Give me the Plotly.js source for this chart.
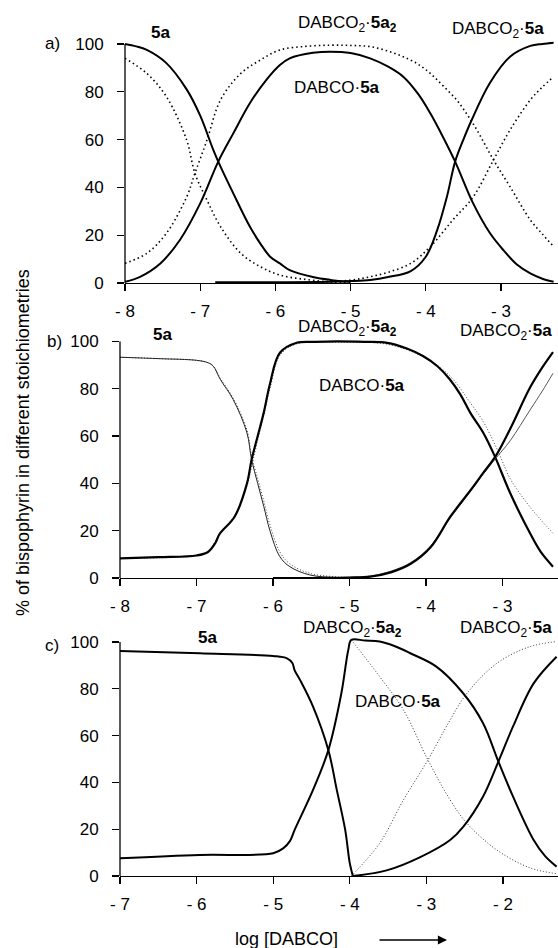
<!DOCTYPE html>
<html>
<head>
<meta charset="utf-8">
<script src="https://cdn.plot.ly/plotly-3.0.1.min.js"></script>
<style>
  html, body { margin: 0; padding: 0; background: #fff; }
  #chart { width: 558px; height: 948px; }
</style>
</head>
<body>
<div id="chart"></div>
<script>
// ---------- panel a: log [DABCO] from -8 ----------
const aX5a      = [-8, -7.85, -7.71, -7.45, -7.18, -7.0, -6.83, -6.76, -6.56, -6.34, -6.2, -6.07, -5.94, -5.81, -5.5, -5.27, -5.0];
const a5a       = [100, 99, 97.5, 92, 81, 70, 56, 50.8, 37.5, 23.6, 16.5, 11, 8.2, 5.4, 2.5, 1.3, 0.5];
const aX5aAlt   = [-8, -7.71, -7.45, -7.18, -7.07, -6.91, -6.73, -6.46, -6.2, -5.94, -5.6, -5.27, -5.0];
const a5aAlt    = [94, 87.7, 78, 59.8, 45.9, 34.7, 23.6, 12.4, 6.8, 3.3, 1.5, 0.5, 0.2];
const aX11      = [-8, -7.8, -7.53, -7.27, -7.0, -6.76, -6.56, -6.34, -6.12, -5.94, -5.81, -5.5, -5.27, -5.0, -4.74, -4.5, -4.3, -4.1, -3.94, -3.77, -3.61, -3.37, -3.15, -2.97, -2.78, -2.61, -2.45, -2.3];
const a11       = [0.5, 2.6, 8.2, 18, 33.3, 50.8, 62.6, 75.2, 85, 91.2, 94, 96.3, 96.8, 96.2, 94, 90.5, 86.3, 79, 71, 61, 50.8, 33.3, 21, 13.8, 7.5, 4, 1.8, 0.5];
const aX22      = [-8, -7.71, -7.45, -7.18, -7.07, -6.91, -6.73, -6.46, -6.2, -5.94, -5.6, -5.27, -5.0, -4.74, -4.5, -4.3, -4.1, -3.94, -3.77, -3.59, -3.45, -3.32, -3.1, -2.88, -2.61, -2.45, -2.3];
const a22       = [8.2, 12.4, 20.8, 36, 45.9, 59.8, 76.6, 87.7, 93.3, 97.5, 99, 99.5, 99.4, 98.9, 97, 94.7, 91.5, 87.7, 82.5, 76.6, 70.5, 64, 51.5, 40.3, 26.4, 20.5, 15.2];
const aX21      = [-6.8, -6.0, -5.27, -5.0, -4.74, -4.5, -4.2, -4.0, -3.85, -3.72, -3.61, -3.5, -3.39, -3.15, -2.88, -2.61, -2.45, -2.3];
const a21       = [0.3, 0.3, 0.5, 0.8, 1.3, 2.5, 5, 11, 22, 36, 50.8, 60, 68.2, 83.6, 94.7, 99.2, 100, 100.5];
const aX21Alt   = [-5.5, -5.0, -4.74, -4.5, -4.2, -3.94, -3.64, -3.37, -3.1, -2.88, -2.61, -2.45, -2.3];
const a21Alt    = [0.3, 1.2, 2.6, 4.5, 8.2, 15.2, 26.4, 36, 51.5, 64, 76.6, 82, 86.3];

// ---------- panel b: log [DABCO] from -8 ----------
const bX5a      = [-8, -7.48, -7.0, -6.85, -6.78, -6.69, -6.52, -6.34, -6.28, -6.2, -6.12, -6.04, -5.91, -5.78, -5.52, -5.17, -4.8];
const b5a       = [93.3, 92.7, 92.0, 91, 89.5, 84, 75.4, 61.3, 50, 40, 30.2, 20, 9, 4.8, 1.3, 0.2, 0];
const b5aAlt    = [93.3, 92.7, 92.0, 91, 89.5, 84.5, 76, 62.5, 51.5, 42, 32.5, 22.5, 11, 6, 2, 0.5, 0];
const bX22      = [-8, -7.5, -7.0, -6.85, -6.75, -6.7, -6.5, -6.34, -6.28, -6.2, -6.12, -6.04, -5.91, -5.69, -5.45, -5.17, -4.8, -4.51, -4.25, -4.04, -3.85, -3.69, -3.55, -3.42, -3.25, -3.1, -2.9, -2.64, -2.5, -2.34];
const b22       = [8.3, 8.8, 9.5, 11, 15, 18.5, 26, 40, 50, 60, 70, 82, 95.2, 99.4, 99.8, 100, 99.8, 99.4, 97, 93.8, 89.5, 84, 77.5, 69.8, 61.3, 51.4, 35.9, 18.9, 11, 4.8];
const bX22Alt   = [-8, -7.0, -6.85, -6.7, -6.5, -6.34, -6.26, -6.12, -6.04, -5.91, -5.69, -5.17, -4.51, -4.04, -3.69, -3.42, -3.25, -3.05, -2.9, -2.64, -2.34];
const b22Alt    = [8.3, 9.5, 11, 18.5, 26.5, 39, 50, 69, 80, 94, 99, 99.6, 98.8, 93.5, 85.5, 74, 66, 53, 42, 30, 18.9];
const bX21      = [-6.0, -5.0, -4.73, -4.45, -4.2, -3.94, -3.68, -3.42, -3.25, -3.09, -2.9, -2.64, -2.48, -2.34];
const b21       = [0, 0.2, 0.6, 2.5, 6, 13, 26, 37, 44.5, 51.5, 63, 80.5, 89, 95.5];
const b21Alt    = [0, 0.3, 0.8, 3, 6.5, 13.5, 25.5, 36.5, 44, 50.5, 58, 71, 79, 86.5];

// ---------- panel c: log [DABCO] from -7 ----------
const cX5a      = [-7.0, -5.96, -5.0, -4.82, -4.75, -4.72, -4.65, -4.48, -4.28, -4.17, -4.06, -4.0, -3.96];
const c5a       = [96.2, 95.2, 94, 93, 91, 87.9, 83.8, 72.4, 53.8, 36.8, 19.7, 5.4, 0];
const cX22      = [-7.0, -5.96, -5.0, -4.87, -4.78, -4.72, -4.48, -4.28, -4.11, -4.02, -3.98, -3.8, -3.61, -3.41, -3.21, -2.87, -2.52, -2.26, -2.06, -1.87, -1.6, -1.45, -1.3];
const c22       = [7.6, 9.0, 9.7, 11.8, 15, 19.7, 36.8, 53.8, 78.1, 96.6, 100.9, 100.6, 100.2, 98.2, 95.2, 89.5, 78.1, 65.3, 48.9, 34, 15.4, 8.5, 4.0];
const cXthin    = [-3.98, -3.61, -3.3, -2.98, -2.69, -2.47, -2.08, -1.65, -1.3];
const c11       = [100.9, 85.2, 71, 49.6, 32.5, 22.5, 11.1, 3.5, 1.0];
const c21Alt    = [0, 14, 32.5, 49.6, 66.7, 78.1, 90.9, 98, 100.2];
const cX21      = [-3.96, -3.52, -3.08, -2.69, -2.52, -2.26, -2.06, -1.87, -1.6, -1.3];
const c21       = [0, 2.4, 8.1, 15.4, 21, 34, 48.9, 63.8, 82.3, 93.7];

// ---------- tick labels ----------
const yTicks     = [0, 20, 40, 60, 80, 100];
const xTicksAB   = [-8, -7, -6, -5, -4, -3];
const xTextAB    = ['- 8', '- 7', '- 6', '- 5', '- 4', '- 3'];
const xTicksC    = [-7, -6, -5, -4, -3, -2];
const xTextC     = ['- 7', '- 6', '- 5', '- 4', '- 3', '- 2'];

// ---------- page geometry (pixels) ----------
const W = 558, H = 948;
const FONT = 'Liberation Sans, Arial, Helvetica, sans-serif';
const px = v => v / W;
const py = v => 1 - v / H;

const DOTS = '1.5px,3px';
const FINE_DOTS = '1px,2px';

function line(x, y, ax, w, dash, color) {
  return {
    type: 'scatter', mode: 'lines', x: x, y: y,
    xaxis: 'x' + ax, yaxis: 'y' + ax,
    line: { color: color || '#000', width: w, dash: dash || 'solid', shape: 'spline', smoothing: 1 },
    hoverinfo: 'skip', showlegend: false
  };
}

const traces = [
  // a)
  line(aX5a, a5a, '', 2, 'solid'),
  line(aX5aAlt, a5aAlt, '', 1.6, DOTS),
  line(aX11, a11, '', 2, 'solid'),
  line(aX22, a22, '', 1.6, DOTS),
  line(aX21, a21, '', 2, 'solid'),
  line(aX21Alt, a21Alt, '', 1.6, DOTS),
  // b)
  line(bX5a, b5aAlt, '2', 1, FINE_DOTS, '#444'),
  line(bX5a, b5a, '2', 1, 'solid', '#222'),
  line(bX22Alt, b22Alt, '2', 1, FINE_DOTS, '#444'),
  line(bX22, b22, '2', 2.2, 'solid'),
  line(bX21, b21Alt, '2', 1, 'solid', '#555'),
  line(bX21, b21, '2', 2.2, 'solid'),
  // c)
  line(cX5a, c5a, '3', 2, 'solid'),
  line(cX22, c22, '3', 2, 'solid'),
  line(cXthin, c11, '3', 1, FINE_DOTS, '#333'),
  line(cXthin, c21Alt, '3', 1, FINE_DOTS, '#333'),
  line(cX21, c21, '3', 2, 'solid')
];

function xAxis(domLeft, range, vals, text, anchor) {
  return {
    domain: [domLeft / W, 1], range: range, anchor: anchor,
    showline: true, linecolor: '#000', linewidth: 1.3,
    showgrid: false, zeroline: false,
    ticks: 'outside', ticklen: 7, tickwidth: 1.3, tickcolor: '#000',
    tickvals: vals, ticktext: text, ticklabelstandoff: 5,
    tickfont: { family: FONT, size: 17, color: '#000' }
  };
}
function yAxis(bottomPx, pxPerUnit, anchor) {
  const top = 102;
  return {
    domain: [py(bottomPx), py(bottomPx - top * pxPerUnit)], range: [0, top], anchor: anchor,
    showline: false, showgrid: false, zeroline: false,
    ticks: 'outside', ticklen: 7, tickwidth: 1.3, tickcolor: '#000',
    tickvals: yTicks, ticklabelstandoff: 10,
    tickfont: { family: FONT, size: 17, color: '#000' }
  };
}

// y-axis spine drawn from 0 to 100 only
function yLine(ref) {
  return { type: 'line', xref: 'x' + ref + ' domain', yref: 'y' + ref, x0: 0, x1: 0, y0: 0, y1: 100,
           line: { color: '#000', width: 1.3 } };
}

function label(text, x, y, size, extra) {
  return Object.assign({ text: text, xref: 'paper', yref: 'paper', x: px(x), y: py(y),
    xanchor: 'center', yanchor: 'middle', showarrow: false,
    font: { family: FONT, size: size || 17, color: '#000' } }, extra || {});
}

const D22 = 'DABCO<sub>2</sub>·<b>5a<sub>2</sub></b>';
const D21 = 'DABCO<sub>2</sub>·<b>5a</b>';
const D11 = 'DABCO·<b>5a</b>';

const annotations = [
  label('a)', 52, 44), label('b)', 54, 341), label('c)', 52, 645),
  // a)
  label('<b>5a</b>', 160, 33), label(D22, 347, 24), label(D21, 498, 30), label(D11, 337, 88),
  // b)
  label('<b>5a</b>', 162, 335), label(D22, 347, 328), label(D21, 506, 332), label(D11, 362, 385),
  // c)
  label('<b>5a</b>', 207, 637), label(D22, 352, 629), label(D21, 506, 629), label(D11, 398, 701),
  // shared axis titles
  label('% of bispophyrin in different stoichiometries', 23, 443, 18, { textangle: -90 }),
  label('log [DABCO]', 286, 939, 18),
  { xref: 'paper', yref: 'paper', x: px(447), y: py(940), ax: -69, ay: 0, text: '',
    showarrow: true, arrowhead: 2, arrowsize: 1.4, arrowwidth: 1.3, arrowcolor: '#000' }
];

const layout = {
  width: W, height: H,
  margin: { l: 0, r: 0, t: 0, b: 0 },
  paper_bgcolor: '#fff', plot_bgcolor: '#fff',
  showlegend: false,
  font: { family: FONT, size: 17, color: '#000' },
  xaxis:  xAxis(125, [-8, -8 + 433 / 75.2], xTicksAB, xTextAB, 'y'),
  yaxis:  yAxis(283, 2.39, 'x'),
  xaxis2: xAxis(120, [-8, -8 + 438 / 76.5], xTicksAB, xTextAB, 'y2'),
  yaxis2: yAxis(578, 2.366, 'x2'),
  xaxis3: xAxis(120, [-7, -7 + 438 / 76.6], xTicksC, xTextC, 'y3'),
  yaxis3: yAxis(876, 2.34, 'x3'),
  shapes: [yLine(''), yLine('2'), yLine('3')],
  annotations: annotations
};

Plotly.newPlot('chart', traces, layout, { staticPlot: true, displayModeBar: false });
</script>
</body>
</html>
